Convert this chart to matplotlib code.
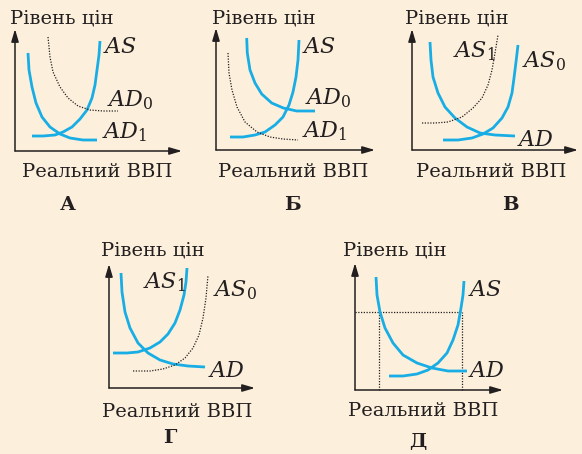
import matplotlib.pyplot as plt

plt.rcParams['mathtext.fontset'] = 'dejavuserif'
plt.rcParams['font.family'] = ['DejaVu Serif']

BG = '#fcf0dc'
BLUE = '#19ade5'
INK = '#231f20'

y_title = 'Рівень цін'
x_title = 'Реальний ВВП'

# Panel А: AS, AD0 (dotted), AD1
a_as_x = [17, 28, 40, 48, 57, 65, 72, 77, 80, 82, 84, 85]
a_as_y = [15, 15, 16, 19, 24, 32, 41, 53, 66, 81, 96, 110]
a_ad1_x = [13, 14, 17, 21, 27, 35, 45, 55, 68, 82]
a_ad1_y = [98, 81, 64, 48, 34, 24, 17, 13, 11, 11]
a_ad0_x = [33, 35, 38, 45, 53, 63, 75, 88, 103]
a_ad0_y = [114, 94, 79, 64, 53, 45, 41, 40, 40]

# Panel Б: AS, AD0, AD1 (dotted)
b_as_x = [14, 27, 39, 49, 59, 67, 73, 77, 80, 82, 83]
b_as_y = [13, 13, 15, 18, 25, 33, 45, 58, 73, 90, 110]
b_ad0_x = [30.7, 31.3, 34, 39, 45.7, 55.7, 67.3, 80.7, 99]
b_ad0_y = [112, 97, 80, 67, 56, 47, 42, 39, 39]
b_ad1_x = [12, 13, 16, 21, 29, 41, 54, 67, 82]
b_ad1_y = [97, 77, 60, 43, 28, 18, 13, 11, 10]

# Panel В: AS0, AS1 (dotted), AD
v_as0_x = [31, 46, 60, 71, 81, 90, 96, 100, 102, 104, 106]
v_as0_y = [10, 10, 12, 16, 22, 32, 43, 57, 72, 88, 105]
v_ad_x = [18, 19, 21, 26, 33, 43, 55, 68, 83, 103]
v_ad_y = [108, 90, 73, 57, 43, 32, 23, 17, 15, 14]
v_as1_x = [10, 23, 36, 50, 61, 70, 76, 80, 83, 86]
v_as1_y = [27, 27, 28, 33, 42, 52, 65, 80, 97, 115]

# Panel Г: AS1, AS0 (dotted), AD
g_as1_x = [4, 18, 29, 41, 51, 59, 66, 71, 75, 77, 78]
g_as1_y = [35, 35, 36, 40, 46, 54, 65, 78, 93, 106, 120]
g_ad_x = [12, 13, 16, 21, 29, 39, 51, 64, 79, 96]
g_ad_y = [115, 96, 76, 60, 45, 35, 28, 24, 22, 21]
g_as0_x = [24, 41, 54, 66, 76, 84, 90, 94, 97, 99]
g_as0_y = [17, 17, 19, 23, 30, 40, 53, 70, 90, 113]

# Panel Д: AS, AD and the price level / output guides
d_ad_x = [21, 22, 25, 30, 38, 48, 62, 77, 93, 112]
d_ad_y = [113, 95, 78, 62, 47, 35, 27, 22, 19, 19]
d_as_x = [34, 48, 62, 73, 83, 92, 98, 103, 106, 108, 109]
d_as_y = [14, 14, 16, 20, 27, 37, 50, 65, 82, 95, 109]
d_price = 78
d_q = [24, 107]

W, H = 582, 454
fig = plt.figure(figsize=(W / 100, H / 100), dpi=100, facecolor=BG)


def make_panel(ox, oy, w, h, letter, ytitle_xy, xtitle_xy, letter_xy):
    ax = fig.add_axes([ox / W, (H - oy) / H, w / W, h / H])
    ax.set_xlim(0, w)
    ax.set_ylim(0, h)
    ax.axis('off')
    arrow = dict(arrowstyle='-|>,head_length=0.75,head_width=0.22',
                 color=INK, lw=1.1, shrinkA=0, shrinkB=0)
    ax.annotate('', xy=(0, h), xytext=(0, 0), arrowprops=arrow, annotation_clip=False)
    ax.annotate('', xy=(w, 0), xytext=(0, 0), arrowprops=arrow, annotation_clip=False)
    ax.text(*ytitle_xy, y_title, fontsize=14, color=INK, ha='left', va='baseline')
    ax.text(*xtitle_xy, x_title, fontsize=14, color=INK, ha='left', va='baseline')
    ax.text(*letter_xy, letter, fontsize=14, fontweight='bold', color=INK,
            ha='center', va='center')
    return ax


def blue(ax, x, y):
    ax.plot(x, y, color=BLUE, lw=2.0, clip_on=False, solid_capstyle='butt',
            solid_joinstyle='round')


def dots(ax, x, y):
    ax.plot(x, y, color=INK, lw=0.9, ls=(0, (1, 1.2)), clip_on=False)


def label(ax, x, y, s):
    ax.text(x, y, s, fontsize=16, color=INK, ha='left', va='baseline')


# А
ax = make_panel(15, 151, 167, 122, 'А', (-5, 127), (7, -26), (53, -54))
blue(ax, a_as_x, a_as_y)
blue(ax, a_ad1_x, a_ad1_y)
dots(ax, a_ad0_x, a_ad0_y)
label(ax, 88, 98, r'$AS$')
label(ax, 92, 45, r'$AD_0$')
label(ax, 87, 13, r'$AD_1$')

# Б
ax = make_panel(216, 150, 159, 122, 'Б', (-4, 126), (2, -27), (76, -55))
blue(ax, b_as_x, b_as_y)
blue(ax, b_ad0_x, b_ad0_y)
dots(ax, b_ad1_x, b_ad1_y)
label(ax, 86, 97, r'$AS$')
label(ax, 89, 46, r'$AD_0$')
label(ax, 86, 13, r'$AD_1$')

# В
ax = make_panel(412, 150, 166, 121, 'В', (-7, 126), (4, -27), (98, -55))
blue(ax, v_as0_x, v_as0_y)
blue(ax, v_ad_x, v_ad_y)
dots(ax, v_as1_x, v_as1_y)
label(ax, 41, 93, r'$AS_1$')
label(ax, 110, 83, r'$AS_0$')
label(ax, 105, 4, r'$AD$')

# Г
ax = make_panel(109, 388, 146, 124, 'Г', (-8, 132), (-7, -29), (61, -50))
blue(ax, g_as1_x, g_as1_y)
blue(ax, g_ad_x, g_ad_y)
dots(ax, g_as0_x, g_as0_y)
label(ax, 34, 100, r'$AS_1$')
label(ax, 104, 92, r'$AS_0$')
label(ax, 99, 11, r'$AD$')

# Д
ax = make_panel(355, 390, 148, 127, 'Д', (-12, 134), (-7, -26), (63, -52))
dots(ax, [0, d_q[1]], [d_price, d_price])
for q in d_q:
    dots(ax, [q, q], [0, d_price])
blue(ax, d_ad_x, d_ad_y)
blue(ax, d_as_x, d_as_y)
label(ax, 113, 94, r'$AS$')
label(ax, 113, 13, r'$AD$')

fig.savefig('out.png', dpi=100, facecolor=BG)
